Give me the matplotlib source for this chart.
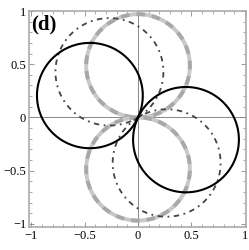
import numpy as np
import matplotlib.pyplot as plt
from matplotlib.ticker import MultipleLocator

# circles through the origin: r = d*cos(theta - phi)
gray_phi = [90, -90]
gray_d = [0.97, 0.97]
black_phi = [155.5, -25]
black_d = [0.99, 0.99]
dashdot_phi = [122, -58]
dashdot_d = [1.01, 1.01]

x_ticks = [-1, -0.5, 0, 0.5, 1]
y_ticks = [-1, -0.5, 0, 0.5, 1]
x_labels = ["\u22121", "\u22120.5", "0", "0.5", "1"]
y_labels = ["\u22121", "\u22120.5", "0", "0.5", "1"]


def circle(d, phi):
    t = np.linspace(0, np.pi, 400)
    r = d * np.cos(t - np.pi / 2)
    a = t - np.pi / 2 + np.radians(phi)
    return r * np.cos(a), r * np.sin(a)


plt.rcParams['font.family'] = ['Liberation Serif', 'DejaVu Serif']
fig = plt.figure(figsize=(2.49, 2.50), dpi=100)
ax = fig.add_axes([29 / 249, 1 - 227 / 250, 217 / 249, 216 / 250])

ax.axhline(0, color="#888888", lw=0.7, zorder=1)
ax.axvline(0, color="#888888", lw=0.7, zorder=1)

for d, p in zip(gray_d, gray_phi):
    x, y = circle(d, p)
    ax.plot(x, y, color="#c8c8c8", lw=2.8, solid_capstyle="butt", zorder=2)
    ax.plot(x, y, color="#a8a8a8", lw=2.8, dashes=(2.2, 1.8), zorder=2)

for d, p in zip(dashdot_d, dashdot_phi):
    x, y = circle(d, p)
    ax.plot(x, y, color="#444444", lw=1.3, dashes=(3, 2.5, 1, 2.5), zorder=3)

for d, p in zip(black_d, black_phi):
    x, y = circle(d, p)
    ax.plot(x, y, color="black", lw=1.5, zorder=4)

ax.set_xlim(-1.02, 1.01)
ax.set_ylim(-1.03, 1.0)
ax.set_xticks(x_ticks)
ax.set_xticklabels(x_labels)
ax.set_yticks(y_ticks)
ax.set_yticklabels(y_labels)
ax.xaxis.set_minor_locator(MultipleLocator(0.1))
ax.yaxis.set_minor_locator(MultipleLocator(0.1))
ax.tick_params(which="both", direction="in", top=True, right=True,
               color="#888888", labelsize=9, pad=2)
ax.tick_params(which="major", length=3.5, width=0.6)
ax.tick_params(which="minor", length=2, width=0.5)
for s in ax.spines.values():
    s.set_color("#aaaaaa")
    s.set_linewidth(1.2)

ax.text(-1.0, 0.965, "(d)", fontsize=15, fontweight="bold",
        ha="left", va="top", zorder=5)

fig.savefig("out.png", dpi=100)
